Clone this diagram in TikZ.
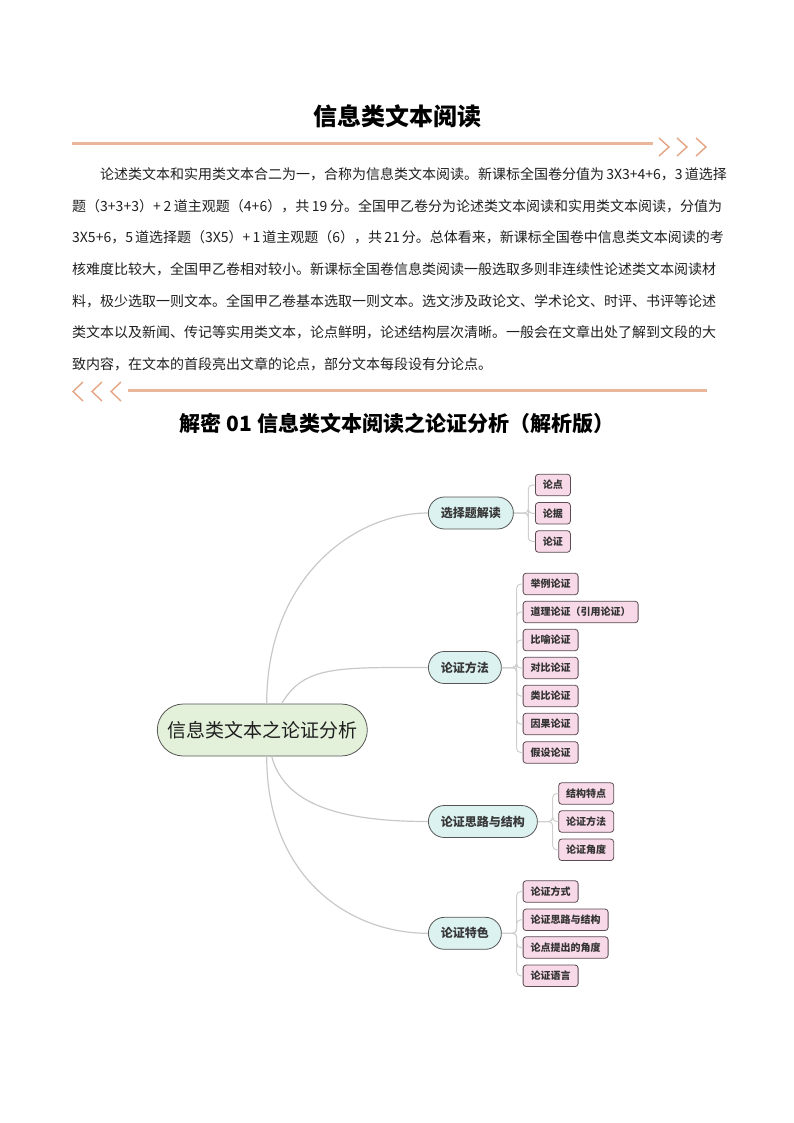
\documentclass[tikz,border=0pt]{standalone}
\usepackage{fontspec}
\setmainfont{Noto Sans CJK SC}
\XeTeXlinebreaklocale "zh"
\XeTeXlinebreakskip=0pt plus 3pt minus 0.6pt
\definecolor{orng}{HTML}{EAB79D}
\definecolor{chev}{HTML}{E3A584}
\definecolor{txt}{HTML}{1E1E1E}
\definecolor{rootfill}{HTML}{E3F0DA}
\definecolor{lonefill}{HTML}{DCF2F1}
\definecolor{ltwofill}{HTML}{F8D9E7}
\definecolor{bord}{HTML}{555555}
\definecolor{ltwobord}{HTML}{5B4B52}
\definecolor{conn}{HTML}{C8C8C8}
\definecolor{spinec}{HTML}{CFCFCF}
\begin{document}
\begin{tikzpicture}[x=1pt,y=-1pt,
  body/.style={font=\fontsize{14}{16}\selectfont, text=txt, inner sep=0pt, anchor=base west},
  deco/.style={draw=orng, line width=3pt},
  chevron/.style={draw=chev, line width=1.4pt},
  rootnode/.style={draw=bord, fill=rootfill, line width=0.8pt, rounded corners=26pt,
    minimum height=52pt, minimum width=210pt, inner xsep=10pt,
    font=\fontsize{19}{22}\selectfont, text=txt},
  lone/.style={draw=bord, fill=lonefill, line width=0.8pt, rounded corners=16pt,
    minimum height=32pt, inner xsep=12.5pt, font=\fontsize{12}{14}\selectfont\bfseries,
    text=black!78, anchor=west},
  ltwo/.style={draw=ltwobord, fill=ltwofill, line width=0.8pt, rounded corners=3pt,
    minimum height=21.5pt, inner xsep=7.5pt, font=\fontsize{10}{12}\selectfont\bfseries,
    text=black!80, anchor=west},
  curve/.style={draw=conn, line width=1.2pt},
  spine/.style={draw=spinec, line width=1pt, rounded corners=4pt}
]
\useasboundingbox (0,0) rectangle (794,1123);

% title
\node[font=\fontsize{24}{28}\selectfont\bfseries, text=black] (title) at (397,116) {信息类文本阅读};

% top decoration
\coordinate (la) at (72,144);
\coordinate (lb) at (653,144);
\draw[deco] (la) -- (lb);
\foreach \i/\xx in {1/659,2/677,3/696}{
  \coordinate (ca\i) at (\xx,138);
  \coordinate (cb\i) at (\xx+10,147);
  \coordinate (cc\i) at (\xx,156);
  \draw[chevron] (ca\i) -- (cb\i) -- (cc\i);
}

% paragraph
\node[body] (p1) at (100,180) {\hbox to 622pt{论述类文本和实用类文本合二为一，合称为信息类文本阅读。新课标全国卷分值为 3X3+4+6，3 道选择}};
\node[body] (p2) at (72,211.5) {\hbox to 650pt{题（3+3+3）+ 2 道主观题（4+6），共 19 分。全国甲乙卷分为论述类文本阅读和实用类文本阅读，分值为}};
\node[body] (p3) at (72,243) {\hbox to 650pt{3X5+6，5 道选择题（3X5）+ 1 道主观题（6），共 21 分。总体看来，新课标全国卷中信息类文本阅读的考}};
\node[body] (p4) at (72,274.5) {\hbox to 650pt{核难度比较大，全国甲乙卷相对较小。新课标全国卷信息类阅读一般选取多则非连续性论述类文本阅读材}};
\node[body] (p5) at (72,306) {\hbox to 650pt{料，极少选取一则文本。全国甲乙卷基本选取一则文本。选文涉及政论文、学术论文、时评、书评等论述}};
\node[body] (p6) at (72,337.5) {\hbox to 650pt{类文本以及新闻、传记等实用类文本，论点鲜明，论述结构层次清晰。一般会在文章出处了解到文段的大}};
\node[body] (p7) at (72,369) {致内容，在文本的首段亮出文章的论点，部分文本每段设有分论点。};

% bottom decoration
\coordinate (lc) at (128,390);
\coordinate (ld) at (707,390);
\draw[deco] (lc) -- (ld);
\foreach \i/\xx in {1/73,2/92,3/111}{
  \coordinate (da\i) at (\xx+10,382);
  \coordinate (db\i) at (\xx,391.5);
  \coordinate (dc\i) at (\xx+10,401);
  \draw[chevron] (da\i) -- (db\i) -- (dc\i);
}

% subtitle
\node[font=\fontsize{21}{24}\selectfont\bfseries, text=black] (sub) at (397,423) {解密 01 信息类文本阅读之论证分析（解析版）};

% mind map
\node[rootnode] (root) at (262.3,730) {信息类文本之论证分析};

\node[lone] (sel) at (428,513) {选择题解读};
\node[lone] (meth) at (428,667.5) {论证方法};
\node[lone] (thk) at (428,821.5) {论证思路与结构};
\node[lone] (feat) at (428,933.3) {论证特色};

\coordinate (r1) at ([xshift=4.4pt]root.north);
\coordinate (r2) at ([xshift=19.4pt]root.north);
\coordinate (r3) at ([xshift=9.4pt]root.south);
\coordinate (r4) at ([xshift=4.4pt]root.south);
\draw[curve] (r1) .. controls +(0,-125) and +(-75,0) .. (sel.west);
\draw[curve] (r2) .. controls +(22,-38) and +(-90,0) .. (meth.west);
\draw[curve] (r3) .. controls +(12,45) and +(-95,0) .. (thk.west);
\draw[curve] (r4) .. controls +(0,120) and +(-80,0) .. (feat.west);

% children of sel
\node[ltwo] (a1) at (535,485) {论点};
\node[ltwo] (a2) at (535,513.3) {论据};
\node[ltwo] (a3) at (535,541.5) {论证};
\coordinate (sa) at (528.3,513);
\foreach \c in {a1,a2,a3}{\draw[spine] (sel.east) -- (sa) |- (\c.west);}

% children of meth
\node[ltwo] (b1) at (522.7,584) {举例论证};
\node[ltwo] (b2) at (522.7,612) {道理论证（引用论证）};
\node[ltwo] (b3) at (522.7,640) {比喻论证};
\node[ltwo] (b4) at (522.7,668) {对比论证};
\node[ltwo] (b5) at (522.7,696) {类比论证};
\node[ltwo] (b6) at (522.7,724) {因果论证};
\node[ltwo] (b7) at (522.7,752.5) {假设论证};
\coordinate (sb) at (516.7,667.5);
\foreach \c in {b1,b2,b3,b4,b5,b6,b7}{\draw[spine] (meth.east) -- (sb) |- (\c.west);}

% children of thk
\node[ltwo] (c1) at (558.3,793.5) {结构特点};
\node[ltwo] (c2) at (558.3,821.5) {论证方法};
\node[ltwo] (c3) at (558.3,849.8) {论证角度};
\coordinate (sc) at (552.7,821.5);
\foreach \c in {c1,c2,c3}{\draw[spine] (thk.east) -- (sc) |- (\c.west);}

% children of feat
\node[ltwo] (e1) at (522.7,891.5) {论证方式};
\node[ltwo] (e2) at (522.7,919.8) {论证思路与结构};
\node[ltwo] (e3) at (522.7,947.5) {论点提出的角度};
\node[ltwo] (e4) at (522.7,975.8) {论证语言};
\coordinate (se) at (516.7,933.3);
\foreach \c in {e1,e2,e3,e4}{\draw[spine] (feat.east) -- (se) |- (\c.west);}
\end{tikzpicture}
\end{document}
